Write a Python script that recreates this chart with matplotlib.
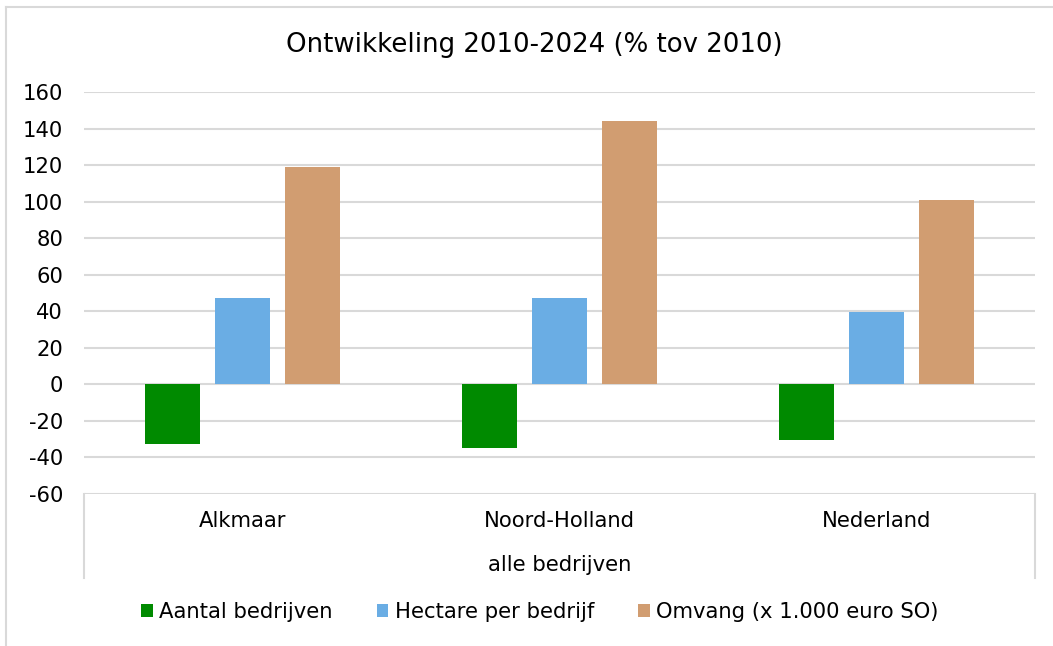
import numpy as np
from matplotlib import pyplot as plt
from matplotlib.lines import Line2D
from matplotlib.patches import Patch

# waarden (% tov 2010)
regios = ["Alkmaar", "Noord-Holland", "Nederland"]
reeksen = ["Aantal bedrijven", "Hectare per bedrijf", "Omvang (x 1.000 euro SO)"]
aantal_bedrijven = [-32.5, -35.0, -30.6]
hectare_per_bedrijf = [47.5, 47.1, 39.8]
omvang = [118.7, 144.4, 100.9]
kleuren = ["#008A00", "#6AADE4", "#D19D71"]
yticks = list(range(-60, 161, 20))

plt.rcParams['font.family'] = ['DejaVu Sans']
fs = 15.2

fig = plt.figure(figsize=(10.53, 6.46), dpi=100)
ax = fig.add_axes([84/1053, 1-494/646, (1035-84)/1053, (494-92)/646])

x = np.arange(len(regios))
breedte = 0.1735
stap = 0.221
for i, (waarden, kleur) in enumerate(zip([aantal_bedrijven, hectare_per_bedrijf, omvang], kleuren)):
    ax.bar(x + (i - 1)*stap, waarden, breedte, color=kleur, zorder=3)

ax.set_xlim(-0.5, len(regios) - 0.5)
ax.set_ylim(-60, 160)
ax.set_yticks(yticks)
ax.set_yticklabels([str(v) for v in yticks], fontsize=fs)
ax.tick_params(axis='y', length=0, pad=15)
ax.set_xticks([])
ax.grid(axis='y', color='#D9D9D9', linewidth=1.5, zorder=0)
for s in ['left', 'right', 'top', 'bottom']:
    ax.spines[s].set_visible(False)

# categorie-labels en kader onder de as
for xi, naam in zip(x, regios):
    fig.text(0, 1-521/646, naam, ha='center', va='center', fontsize=fs)
    fig.texts[-1].set_x((84 + (xi + 0.5)*(1035-84)/len(regios))/1053)
fig.text((84+1035)/2/1053, 1-565/646, "alle bedrijven", ha='center', va='center', fontsize=fs)
for xp in [84, 1035]:
    fig.add_artist(Line2D([xp/1053, xp/1053], [1-494/646, 1-578/646], color='#D9D9D9', linewidth=1.5))

# buitenrand
fig.add_artist(Line2D([6/1053, 6/1053], [0, 1-7/646], color='#D9D9D9', linewidth=1.5))
fig.add_artist(Line2D([6/1053, 1], [1-7/646, 1-7/646], color='#D9D9D9', linewidth=1.5))

fig.text(534/1053, 1-45/646, "Ontwikkeling 2010-2024 (% tov 2010)", ha='center', va='center', fontsize=18.7)

handles = [Patch(facecolor=k, edgecolor='none') for k in kleuren]
fig.legend(handles, reeksen, loc='center', bbox_to_anchor=(540/1053, 1-612/646), ncol=3,
           frameon=False, fontsize=fs, handlelength=0.55, handleheight=0.55,
           handletextpad=0.3, columnspacing=2.1)

plt.savefig("out.png", dpi=100)
